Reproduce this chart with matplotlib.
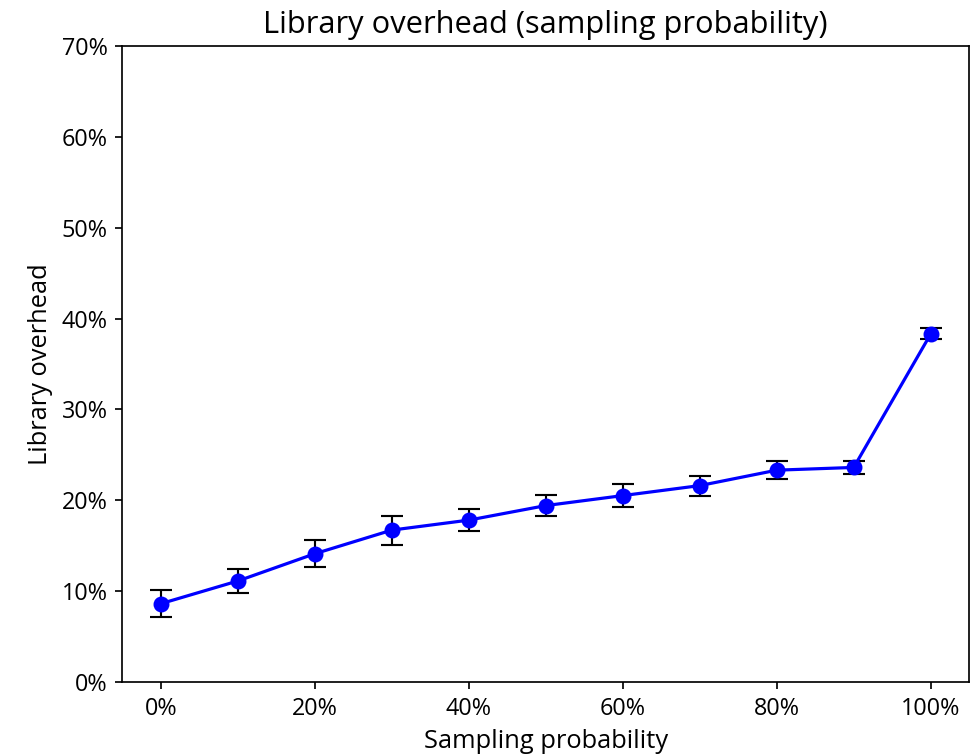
import matplotlib.pyplot as plt
from matplotlib.ticker import PercentFormatter

plt.rcParams["font.family"] = ["Open Sans", "DejaVu Sans"]

probability = [0, 10, 20, 30, 40, 50, 60, 70, 80, 90, 100]
overhead = [8.6, 11.1, 14.1, 16.7, 17.8, 19.4, 20.5, 21.6, 23.3, 23.6, 38.3]
error = [1.5, 1.3, 1.5, 1.6, 1.2, 1.2, 1.3, 1.1, 1.0, 0.7, 0.6]

fig, ax = plt.subplots(figsize=(979 / 153, 755 / 153), dpi=153)

ax.errorbar(probability, overhead, yerr=error, fmt="o-", color="blue",
            ecolor="black", elinewidth=1, capsize=5, markersize=6.5, linewidth=1.5)

ax.set_ylim(0, 70)
ax.set_xticks(range(0, 101, 20))
ax.xaxis.set_major_formatter(PercentFormatter(decimals=0))
ax.yaxis.set_major_formatter(PercentFormatter(decimals=0))
ax.tick_params(labelsize=11)
ax.set_xlabel("Sampling probability", fontsize=12)
ax.set_ylabel("Library overhead", fontsize=12)
ax.set_title("Library overhead (sampling probability)", fontsize=14.5)

fig.subplots_adjust(left=0.125, right=0.99, top=0.939, bottom=0.097)
fig.savefig("out.png", dpi=153)
